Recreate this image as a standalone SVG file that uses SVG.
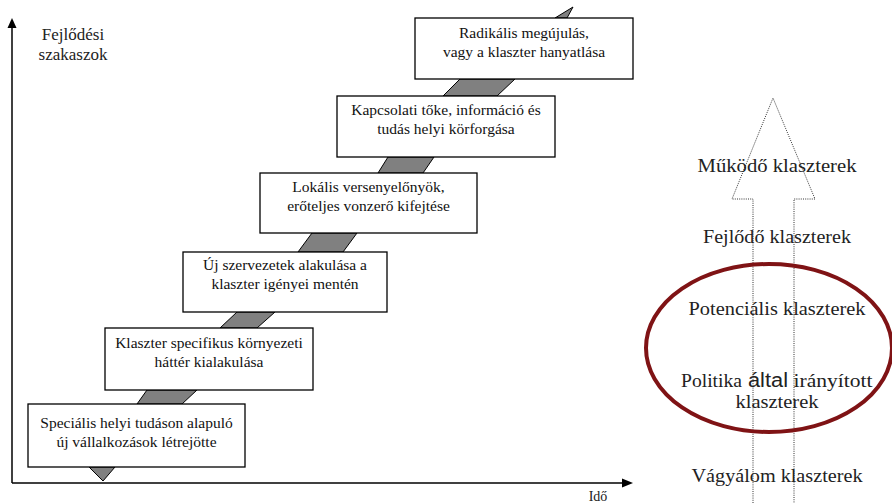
<svg xmlns="http://www.w3.org/2000/svg" width="892" height="503" viewBox="0 0 892 503">
<defs>
<style>
.box{fill:#fff;stroke:#000;stroke-width:1.3}
.bt{font-family:"Liberation Serif","Times New Roman",serif;font-size:15.5px;fill:#111;text-anchor:middle}
.seg{fill:#808080;stroke:#000;stroke-width:1}
.axis{stroke:#000;stroke-width:1.5;fill:none}
.rt{font-family:"Liberation Serif","Times New Roman",serif;font-size:18.5px;fill:#222;text-anchor:middle}
.lt{font-family:"Liberation Serif","Times New Roman",serif;font-size:17px;fill:#222;text-anchor:middle}
.dot{fill:none;stroke:#333;stroke-width:1;stroke-dasharray:1 1.2}
</style>
</defs>
<rect width="892" height="503" fill="#fff"/>

<g id="axes">
<line class="axis" x1="12" y1="483" x2="12" y2="27"/>
<polygon points="12,18 7.5,28 16.5,28" fill="#000"/>
<line class="axis" x1="12" y1="483" x2="623" y2="483"/>
<polygon points="633,483 622,478.5 622,487.5" fill="#000"/>
<text class="lt" x="73" y="40">Fejlődési</text>
<text class="lt" x="73" y="60">szakaszok</text>
<text class="lt" x="598" y="501" style="font-size:14px">Idő</text>
</g>

<g id="connectors">
<polygon class="seg" points="89,467 115,467 103,481"/>
<polygon class="seg" points="147,390 197,390 182,404 137,404"/>
<polygon class="seg" points="237,312 275,312 257,328 220,328"/>
<polygon class="seg" points="312,233 357,233 343,252 298,252"/>
<polygon class="seg" points="388,157 434,157 423,173 378,173"/>
<polygon class="seg" points="460,79 515,79 497,96 443,96"/>
<polygon class="seg" points="555,18 567,18 573,7"/>
</g>

<g id="stage1">
<rect class="box" x="28" y="404" width="217" height="63"/>
<text class="bt" x="136.5" y="428">Speciális helyi tudáson alapuló</text>
<text class="bt" x="136.5" y="447">új vállalkozások létrejötte</text>
</g>
<g id="stage2">
<rect class="box" x="105" y="328" width="208" height="62"/>
<text class="bt" x="209" y="348">Klaszter specifikus környezeti</text>
<text class="bt" x="209" y="367">háttér kialakulása</text>
</g>
<g id="stage3">
<rect class="box" x="183" y="252" width="204" height="60"/>
<text class="bt" x="285" y="270">Új szervezetek alakulása a</text>
<text class="bt" x="285" y="289">klaszter igényei mentén</text>
</g>
<g id="stage4">
<rect class="box" x="260" y="173" width="217" height="60"/>
<text class="bt" x="368.5" y="192">Lokális versenyelőnyök,</text>
<text class="bt" x="368.5" y="211">erőteljes vonzerő kifejtése</text>
</g>
<g id="stage5">
<rect class="box" x="337" y="96" width="218" height="61"/>
<text class="bt" x="446" y="115">Kapcsolati tőke, információ és</text>
<text class="bt" x="446" y="134">tudás helyi körforgása</text>
</g>
<g id="stage6">
<rect class="box" x="415" y="18" width="218" height="61"/>
<text class="bt" x="524" y="38">Radikális megújulás,</text>
<text class="bt" x="524" y="57">vagy a klaszter hanyatlása</text>
</g>

<g id="dev-arrow">
<path class="dot" d="M753,503 V199 H732 L773,98 L815,199 H794 V503"/>
</g>

<g id="potential-ellipse">
<ellipse cx="769" cy="348" rx="123" ry="84" fill="none" stroke="#7f1315" stroke-width="4"/>
</g>

<g id="cluster-levels">
<text class="rt" x="777" y="172" textLength="159" lengthAdjust="spacingAndGlyphs">Működő klaszterek</text>
<text class="rt" x="777" y="243" textLength="148" lengthAdjust="spacingAndGlyphs">Fejlődő klaszterek</text>
<text class="rt" x="777" y="315" textLength="177" lengthAdjust="spacingAndGlyphs">Potenciális klaszterek</text>
<text class="rt" x="711.5" y="387" textLength="61" lengthAdjust="spacingAndGlyphs">Politika</text>
<text class="rt" x="768" y="387" textLength="40" lengthAdjust="spacingAndGlyphs" style="font-family:'Liberation Sans',Arial,sans-serif;font-size:20px">által</text>
<text class="rt" x="833" y="387" textLength="79" lengthAdjust="spacingAndGlyphs">irányított</text>
<text class="rt" x="777" y="408" textLength="83" lengthAdjust="spacingAndGlyphs">klaszterek</text>
<text class="rt" x="777" y="482" textLength="171" lengthAdjust="spacingAndGlyphs">Vágyálom klaszterek</text>
</g>
</svg>
